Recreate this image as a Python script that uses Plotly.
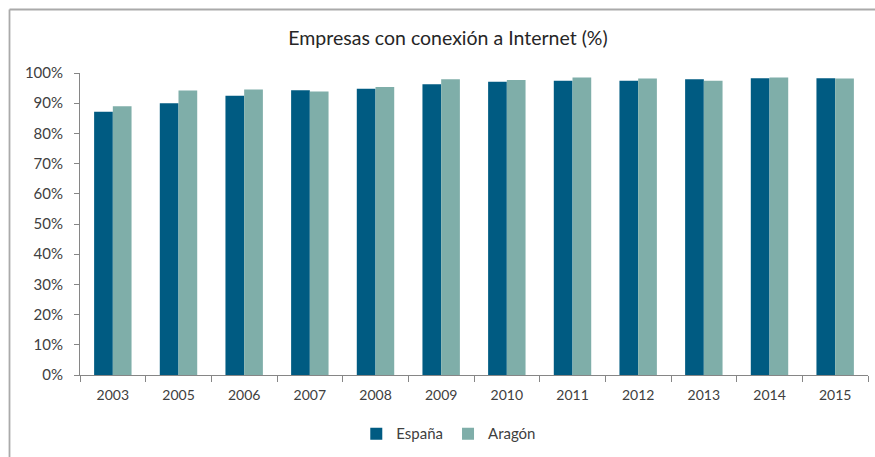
import plotly.graph_objects as go

years = ["2003", "2005", "2006", "2007", "2008", "2009", "2010", "2011", "2012", "2013", "2014", "2015"]
espana = [87.2, 90.0, 92.5, 94.3, 94.8, 96.3, 97.1, 97.4, 97.4, 97.9, 98.3, 98.3]
aragon = [89.0, 94.2, 94.5, 93.9, 95.4, 97.9, 97.7, 98.5, 98.2, 97.4, 98.5, 98.2]
y_ticks = [0, 10, 20, 30, 40, 50, 60, 70, 80, 90, 100]

FONT = "Lato"
fig = go.Figure()
fig.add_trace(go.Bar(name="España", x=years, y=[v / 100 for v in espana],
                     marker=dict(color="#005B82", line=dict(width=0))))
fig.add_trace(go.Bar(name="Aragón", x=years, y=[v / 100 for v in aragon],
                     marker=dict(color="#7FAEA9", line=dict(width=0))))

fig.update_layout(
    width=875, height=457,
    margin=dict(l=80, r=7, t=73, b=82),
    paper_bgcolor="white", plot_bgcolor="white",
    barmode="group", bargap=0.43, bargroupgap=0,
    font=dict(family=FONT, color="#595959", size=14),
    title=dict(text="Empresas con conexión a Internet (%)", x=448 / 875, y=1 - 38 / 457,
               xref="container", yref="container", xanchor="center", yanchor="middle",
               font=dict(family=FONT, size=19.5, color="#262626")),
    legend=dict(orientation="h", x=0.468, y=-0.195, xanchor="center", yanchor="middle",
                font=dict(family=FONT, size=15, color="#404040"),
                itemwidth=30, traceorder="normal"),
    showlegend=True,
)
fig.update_xaxes(showline=True, linecolor="#868686", linewidth=1,
                 ticks="outside", tickson="boundaries", ticklen=6, tickcolor="#868686",
                 ticklabelstandoff=7,
                 showgrid=False, tickfont=dict(size=14, color="#404040"))
fig.update_yaxes(range=[0, 1], tickvals=[t / 100 for t in y_ticks],
                 ticktext=[f"{t}%" for t in y_ticks],
                 showline=True, linecolor="#868686", linewidth=1,
                 ticks="outside", ticklen=5, tickcolor="#868686",
                 ticklabelstandoff=8,
                 showgrid=False, zeroline=False, tickfont=dict(size=15, color="#404040"))

# outer chart frame (top and left edges visible)
bx0 = (9.5 - 80) / 788
by1 = (375 - 9.5) / 302
fig.add_shape(type="line", xref="paper", yref="paper", x0=bx0, x1=1.02, y0=by1, y1=by1,
              line=dict(color="#AAAAAA", width=1.8))
fig.add_shape(type="line", xref="paper", yref="paper", x0=bx0, x1=bx0, y0=by1, y1=-0.3,
              line=dict(color="#AAAAAA", width=1.8))

fig.write_html("out.html", config={"displayModeBar": False},
               post_script="document.body.style.margin='0';document.body.style.overflow='hidden';")
